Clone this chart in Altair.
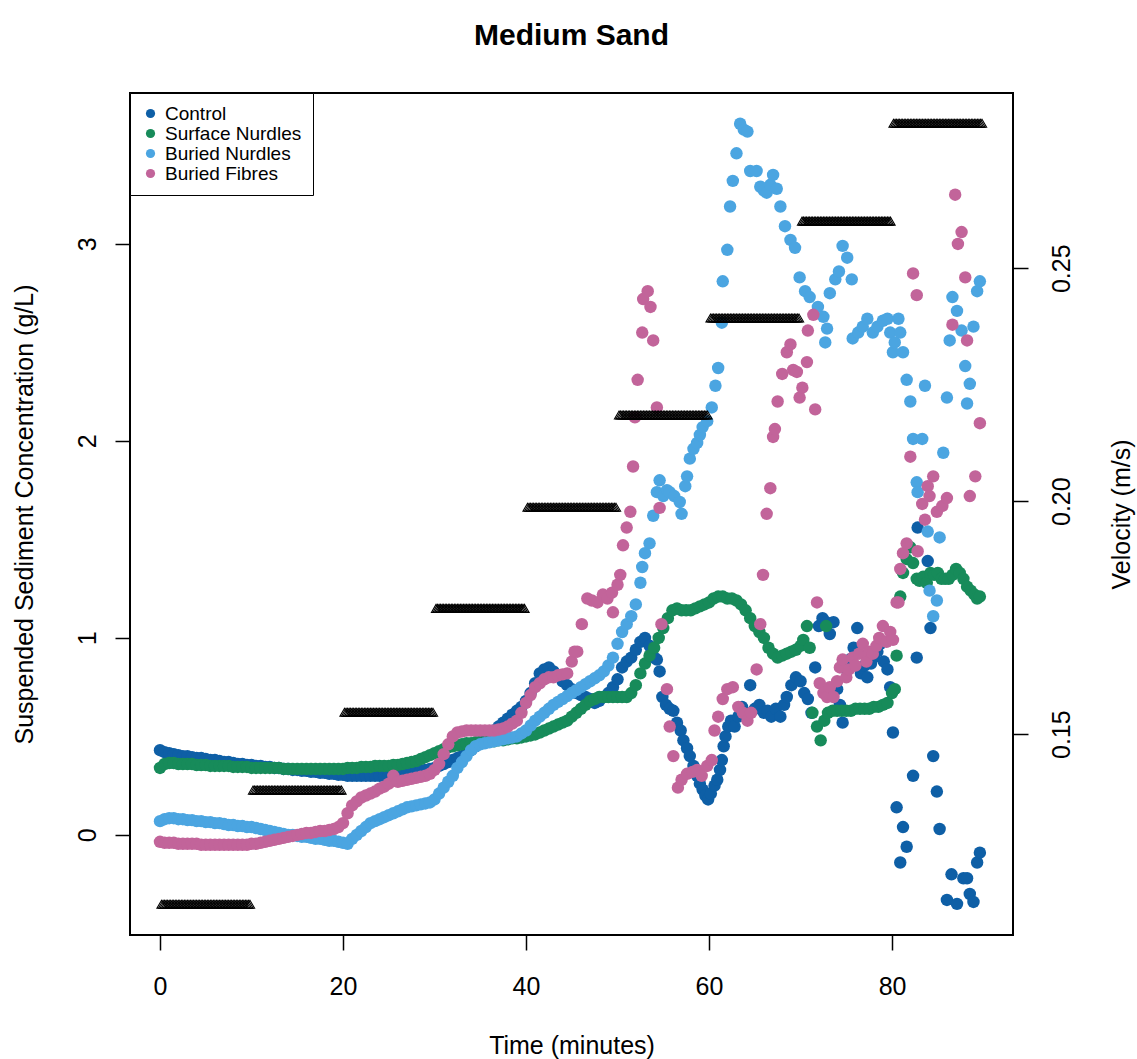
import altair as alt
import pandas as pd

SERIES = ["Control", "Surface Nurdles", "Buried Nurdles", "Buried Fibres"]
COLORS = ["#0e5fa6", "#178b5a", "#4ba5e1", "#c2649a"]

# (time in minutes, suspended sediment concentration g/L)
CONTROL = [
    (0, 0.43), (0.5, 0.42), (1, 0.415), (1.5, 0.41), (2, 0.405), (2.5, 0.40), (3, 0.40), (3.5, 0.395), (4, 0.39), (4.5, 0.39),
    (5, 0.385), (5.5, 0.38), (6, 0.38), (6.5, 0.375), (7, 0.37), (7.5, 0.37), (8, 0.365), (8.5, 0.36), (9, 0.36), (9.5, 0.355),
    (10, 0.355), (10.5, 0.35), (11, 0.35), (11.5, 0.345), (12, 0.345), (12.5, 0.34), (13, 0.34), (13.5, 0.335), (14, 0.335), (14.5, 0.33),
    (15, 0.33), (15.5, 0.325), (16, 0.325), (16.5, 0.32), (17, 0.32), (17.5, 0.315), (18, 0.315), (18.5, 0.31), (19, 0.31), (19.5, 0.305),
    (20, 0.305), (20.5, 0.30), (21, 0.30), (21.5, 0.30), (22, 0.30), (22.5, 0.30), (23, 0.30), (23.5, 0.30), (24, 0.30), (24.5, 0.30),
    (25, 0.30), (25.5, 0.305), (26, 0.305), (26.5, 0.31), (27, 0.31), (27.5, 0.315), (28, 0.32), (28.5, 0.325), (29, 0.33), (29.5, 0.335),
    (30, 0.34), (30.5, 0.35), (31, 0.36), (31.5, 0.37), (32, 0.38), (32.5, 0.39), (33, 0.40), (33.5, 0.42), (34, 0.43), (34.5, 0.45),
    (35, 0.47), (35.5, 0.49), (36, 0.51), (36.5, 0.53), (37, 0.55), (37.5, 0.57), (38, 0.59), (38.5, 0.61), (39, 0.63), (39.5, 0.65),
    (40, 0.68), (40.5, 0.72), (41, 0.77), (41.5, 0.82), (42, 0.84), (42.5, 0.85), (43, 0.83), (43.5, 0.81), (44, 0.78), (44.5, 0.76),
    (45, 0.74), (45.5, 0.72), (46, 0.71), (46.5, 0.70), (47, 0.69), (47.5, 0.67), (48, 0.68), (48.5, 0.70), (49, 0.72), (49.5, 0.75),
    (50, 0.79), (50.5, 0.85), (51, 0.88), (51.5, 0.90), (52, 0.94), (52.5, 0.98), (53, 1.00), (53.5, 0.96), (54, 0.90), (54.3, 0.89),
    (54.6, 0.83), (54.9, 0.70), (55.3, 0.66), (55.7, 0.64), (56.1, 0.63), (56.5, 0.57), (56.9, 0.53), (57.2, 0.48), (57.6, 0.44), (57.9, 0.40),
    (58.3, 0.35), (58.7, 0.30), (59.0, 0.26), (59.3, 0.23), (59.6, 0.20), (59.9, 0.18), (60.2, 0.21), (60.6, 0.25), (60.9, 0.28), (61.2, 0.33),
    (61.4, 0.38), (61.6, 0.45), (61.8, 0.50), (62.1, 0.55), (62.4, 0.58), (62.8, 0.55), (63.2, 0.60), (63.6, 0.65), (64.0, 0.62), (64.5, 0.76),
    (65.0, 0.64), (65.5, 0.66), (66.0, 0.62), (66.4, 0.63), (66.8, 0.60), (67.3, 0.64), (67.8, 0.60), (68.2, 0.66), (68.5, 0.70), (69.0, 0.76),
    (69.5, 0.80), (70.0, 0.78), (70.4, 0.72), (70.8, 0.69), (71.2, 0.62), (71.6, 0.85), (72.0, 1.06), (72.4, 1.10), (72.8, 1.08), (73.2, 1.02),
    (73.6, 1.08), (74.0, 0.74), (74.3, 0.66), (74.6, 0.57), (75.0, 0.84), (75.4, 0.89), (75.8, 0.95), (76.2, 1.05), (76.6, 0.82), (77.0, 0.86),
    (77.3, 0.80), (77.7, 0.87), (78.0, 0.90), (78.4, 0.93), (78.7, 0.97), (79.1, 0.88), (79.5, 0.84), (79.8, 0.75), (80.1, 0.52), (80.5, 0.14),
    (80.9, -0.14), (81.2, 0.04), (81.6, -0.06), (82.3, 0.30), (82.7, 0.90), (82.8, 1.56), (83.9, 1.39), (84.2, 1.05), (84.5, 0.40), (84.9, 0.22),
    (85.2, 0.03), (86.0, -0.33), (86.5, -0.20), (87.1, -0.35), (87.8, -0.22), (88.2, -0.22), (88.5, -0.30), (88.9, -0.34), (89.3, -0.14), (89.6, -0.09),
]

SURFACE_NURDLES = [
    (0, 0.34), (0.5, 0.36), (1, 0.365), (1.5, 0.365), (2, 0.36), (2.5, 0.36), (3, 0.36), (3.5, 0.36), (4, 0.355), (4.5, 0.355),
    (5, 0.355), (5.5, 0.35), (6, 0.35), (6.5, 0.35), (7, 0.35), (7.5, 0.35), (8, 0.345), (8.5, 0.345), (9, 0.345), (9.5, 0.345),
    (10, 0.34), (10.5, 0.34), (11, 0.34), (11.5, 0.34), (12, 0.34), (12.5, 0.34), (13, 0.34), (13.5, 0.335), (14, 0.335), (14.5, 0.335),
    (15, 0.335), (15.5, 0.335), (16, 0.335), (16.5, 0.335), (17, 0.335), (17.5, 0.335), (18, 0.335), (18.5, 0.335), (19, 0.335), (19.5, 0.335),
    (20, 0.335), (20.5, 0.34), (21, 0.34), (21.5, 0.34), (22, 0.345), (22.5, 0.345), (23, 0.345), (23.5, 0.35), (24, 0.35), (24.5, 0.35),
    (25, 0.35), (25.5, 0.355), (26, 0.355), (26.5, 0.36), (27, 0.365), (27.5, 0.37), (28, 0.375), (28.5, 0.385), (29, 0.395), (29.5, 0.405),
    (30, 0.415), (30.5, 0.425), (31, 0.435), (31.5, 0.445), (32, 0.45), (32.5, 0.455), (33, 0.46), (33.5, 0.465), (34, 0.465), (34.5, 0.47),
    (35, 0.47), (35.5, 0.47), (36, 0.475), (36.5, 0.475), (37, 0.48), (37.5, 0.48), (38, 0.485), (38.5, 0.49), (39, 0.49), (39.5, 0.495),
    (40, 0.50), (40.5, 0.505), (41, 0.51), (41.5, 0.52), (42, 0.53), (42.5, 0.54), (43, 0.55), (43.5, 0.56), (44, 0.57), (44.5, 0.58),
    (45, 0.60), (45.5, 0.62), (46, 0.64), (46.5, 0.66), (47, 0.68), (47.5, 0.69), (48, 0.70), (48.5, 0.70), (49, 0.70), (49.5, 0.70),
    (50, 0.70), (50.5, 0.70), (51, 0.70), (51.5, 0.72), (52, 0.76), (52.5, 0.82), (53, 0.87), (53.5, 0.91), (54, 0.95), (54.5, 1.00),
    (55, 1.05), (55.5, 1.10), (56, 1.14), (56.5, 1.15), (57, 1.14), (57.5, 1.14), (58, 1.14), (58.5, 1.15), (59, 1.16), (59.5, 1.17),
    (60, 1.18), (60.5, 1.20), (61, 1.21), (61.5, 1.21), (62, 1.20), (62.5, 1.20), (63, 1.19), (63.5, 1.17), (64, 1.14), (64.5, 1.10),
    (65, 1.06), (65.5, 1.03), (66, 1.00), (66.5, 0.95), (67, 0.92), (67.5, 0.90), (68, 0.91), (68.5, 0.92), (69, 0.93), (69.5, 0.94),
    (70, 0.96), (70.3, 0.99), (70.7, 1.06), (71.0, 0.95), (71.3, 0.62), (71.8, 0.55), (72.2, 0.48), (72.6, 0.58), (72.8, 1.06), (73.0, 0.62),
    (73.5, 0.63), (74, 0.63), (74.5, 0.63), (75, 0.63), (75.5, 0.63), (76, 0.64), (76.5, 0.64), (77, 0.64), (77.5, 0.64), (78, 0.65),
    (78.5, 0.65), (79, 0.66), (79.5, 0.67), (80, 0.72), (80.3, 0.74), (80.5, 0.91), (80.9, 1.21), (81.2, 1.33), (81.6, 1.40), (82.0, 1.46),
    (82.3, 1.38), (82.7, 1.30), (83.0, 1.29), (83.4, 1.31), (83.8, 1.28), (84.2, 1.33), (84.6, 1.32), (85.0, 1.33), (85.4, 1.30), (85.8, 1.30),
    (86.2, 1.30), (86.6, 1.32), (87.0, 1.35), (87.4, 1.33), (87.8, 1.30), (88.2, 1.26), (88.6, 1.24), (89.0, 1.22), (89.3, 1.20), (89.6, 1.21),
]

BURIED_NURDLES = [
    (0, 0.07), (0.5, 0.08), (1, 0.085), (1.5, 0.085), (2, 0.08), (2.5, 0.08), (3, 0.075), (3.5, 0.075), (4, 0.07), (4.5, 0.07),
    (5, 0.065), (5.5, 0.065), (6, 0.06), (6.5, 0.06), (7, 0.055), (7.5, 0.05), (8, 0.05), (8.5, 0.045), (9, 0.045), (9.5, 0.04),
    (10, 0.04), (10.5, 0.035), (11, 0.03), (11.5, 0.025), (12, 0.02), (12.5, 0.015), (13, 0.01), (13.5, 0.005), (14, 0.0), (14.5, 0.0),
    (15, -0.005), (15.5, -0.01), (16, -0.01), (16.5, -0.015), (17, -0.02), (17.5, -0.02), (18, -0.025), (18.5, -0.03), (19, -0.03), (19.5, -0.035),
    (20, -0.04), (20.5, -0.045), (21, -0.02), (21.5, 0.0), (22, 0.02), (22.5, 0.04), (23, 0.06), (23.5, 0.07), (24, 0.08), (24.5, 0.09),
    (25, 0.10), (25.5, 0.11), (26, 0.12), (26.5, 0.13), (27, 0.14), (27.5, 0.145), (28, 0.15), (28.5, 0.155), (29, 0.16), (29.5, 0.165),
    (30, 0.18), (30.5, 0.21), (31, 0.24), (31.5, 0.27), (32, 0.30), (32.5, 0.34), (33, 0.37), (33.5, 0.40), (34, 0.43), (34.5, 0.45),
    (35, 0.46), (35.5, 0.465), (36, 0.47), (36.5, 0.475), (37, 0.48), (37.5, 0.485), (38, 0.49), (38.5, 0.495), (39, 0.50), (39.5, 0.515),
    (40, 0.53), (40.5, 0.555), (41, 0.58), (41.5, 0.60), (42, 0.62), (42.5, 0.64), (43, 0.66), (43.5, 0.675), (44, 0.69), (44.5, 0.705),
    (45, 0.72), (45.5, 0.735), (46, 0.75), (46.5, 0.765), (47, 0.78), (47.5, 0.795), (48, 0.81), (48.5, 0.83), (49, 0.86), (49.5, 0.90),
    (50, 0.97), (50.5, 1.03), (51, 1.07), (51.5, 1.11), (52, 1.17), (52.5, 1.28), (52.7, 1.36), (53, 1.43), (53.5, 1.48), (53.9, 1.62),
    (54.3, 1.74), (54.6, 1.80), (55.0, 1.72), (55.4, 1.75), (55.7, 1.74), (56.2, 1.72), (56.8, 1.69), (57.0, 1.63), (57.4, 1.77), (57.6, 1.82),
    (57.9, 1.91), (58.3, 1.96), (58.7, 1.99), (59.0, 2.03), (59.3, 2.07), (59.8, 2.10), (60.3, 2.17), (60.7, 2.28), (61.0, 2.37), (61.4, 2.60),
    (61.5, 2.81), (62.0, 2.97), (62.3, 3.19), (62.6, 3.32), (63.0, 3.46), (63.4, 3.61), (63.8, 3.58), (64.2, 3.57), (64.5, 3.37), (65.2, 3.37),
    (65.6, 3.29), (66.0, 3.27), (66.3, 3.26), (66.7, 3.30), (67.0, 3.35), (67.4, 3.28), (67.8, 3.19), (68.3, 3.09), (68.9, 3.02), (69.4, 2.98),
    (69.9, 2.83), (70.5, 2.76), (71.0, 2.73), (71.9, 2.68), (72.5, 2.63), (72.9, 2.57), (72.7, 2.50), (73.2, 2.75), (73.8, 2.82), (74.2, 2.86),
    (74.6, 2.99), (75.1, 2.93), (75.6, 2.82), (75.7, 2.52), (76.3, 2.55), (76.8, 2.58), (77.3, 2.62), (77.9, 2.55), (78.4, 2.58), (79.0, 2.61),
    (79.5, 2.62), (79.8, 2.55), (80.1, 2.45), (80.3, 2.50), (80.7, 2.62), (80.9, 2.55), (81.2, 2.45), (81.6, 2.31), (82.0, 2.20), (82.3, 2.01),
    (82.7, 1.79), (82.8, 1.74), (83.3, 2.01), (83.6, 2.28), (83.9, 1.54), (84.1, 1.24), (84.5, 1.11), (84.9, 1.19), (85.2, 1.51), (85.6, 1.94),
    (86.0, 2.22), (86.3, 2.51), (86.6, 2.73), (87.1, 2.66), (87.6, 2.56), (88.0, 2.38), (88.2, 2.19), (88.5, 2.29), (88.9, 2.58), (89.3, 2.76),
    (89.6, 2.81),
]

BURIED_FIBRES = [
    (0, -0.035), (0.5, -0.04), (1, -0.04), (1.5, -0.04), (2, -0.045), (2.5, -0.045), (3, -0.045), (3.5, -0.045), (4, -0.045), (4.5, -0.05),
    (5, -0.05), (5.5, -0.05), (6, -0.05), (6.5, -0.05), (7, -0.05), (7.5, -0.05), (8, -0.05), (8.5, -0.05), (9, -0.05), (9.5, -0.05),
    (10, -0.045), (10.5, -0.045), (11, -0.04), (11.5, -0.035), (12, -0.03), (12.5, -0.025), (13, -0.02), (13.5, -0.015), (14, -0.01), (14.5, -0.005),
    (15, 0.0), (15.5, 0.005), (16, 0.01), (16.5, 0.01), (17, 0.015), (17.5, 0.02), (18, 0.02), (18.5, 0.025), (19, 0.03), (19.5, 0.04),
    (20, 0.06), (20.5, 0.11), (21, 0.15), (21.5, 0.17), (22, 0.19), (22.5, 0.20), (23, 0.21), (23.5, 0.22), (24, 0.235), (24.5, 0.245),
    (25, 0.26), (25.5, 0.30), (26, 0.27), (26.5, 0.275), (27, 0.28), (27.5, 0.285), (28, 0.29), (28.5, 0.295), (29, 0.30), (29.5, 0.31),
    (30, 0.33), (30.5, 0.36), (31, 0.41), (31.5, 0.46), (32, 0.50), (32.5, 0.52), (33, 0.525), (33.5, 0.53), (34, 0.53), (34.5, 0.53),
    (35, 0.53), (35.5, 0.53), (36, 0.53), (36.5, 0.53), (37, 0.535), (37.5, 0.54), (38, 0.55), (38.5, 0.565), (39, 0.58), (39.5, 0.62),
    (40, 0.67), (40.5, 0.71), (41, 0.75), (41.5, 0.77), (42, 0.79), (42.5, 0.80), (43, 0.80), (43.5, 0.81), (44, 0.815), (44.5, 0.82),
    (45, 0.88), (45.3, 0.93), (45.6, 0.93), (46.1, 1.07), (46.7, 1.20), (47.2, 1.19), (47.8, 1.18), (48.4, 1.22), (48.9, 1.20), (49.4, 1.23),
    (49.5, 1.13), (50.0, 1.27), (50.3, 1.32), (50.6, 1.47), (51.0, 1.56), (51.4, 1.64), (51.7, 1.87), (51.9, 2.12), (52.2, 2.31), (52.7, 2.55),
    (52.8, 2.72), (53.3, 2.76), (53.6, 2.68), (53.9, 2.51), (54.3, 2.17), (54.6, 1.66), (54.8, 1.07), (55.4, 0.74), (55.7, 0.55), (56.1, 0.40),
    (56.6, 0.24), (57.0, 0.28), (57.6, 0.31), (58.2, 0.32), (58.7, 0.33), (59.2, 0.30), (59.8, 0.35), (60.3, 0.38), (60.6, 0.53), (61.0, 0.60),
    (61.5, 0.69), (62.0, 0.74), (62.6, 0.75), (63.2, 0.65), (63.7, 0.62), (64.2, 0.58), (64.6, 0.62), (65.2, 0.84), (65.6, 1.07), (65.9, 1.32),
    (66.3, 1.63), (66.7, 1.76), (67.0, 2.02), (67.2, 2.06), (67.5, 2.20), (68.0, 2.34), (68.5, 2.45), (68.9, 2.49), (69.2, 2.36), (69.6, 2.35),
    (69.9, 2.22), (70.2, 2.27), (70.7, 2.40), (70.8, 2.56), (71.4, 2.64), (71.6, 2.16), (71.8, 1.18), (72.1, 0.77), (72.5, 0.72), (72.9, 0.70),
    (73.2, 0.75), (73.6, 0.70), (74.0, 0.78), (74.3, 0.85), (74.6, 0.89), (75.0, 0.80), (75.3, 0.84), (75.7, 0.90), (76.0, 0.86), (76.4, 0.92),
    (76.8, 0.97), (77.2, 0.88), (77.5, 0.93), (77.9, 0.92), (78.3, 0.96), (78.6, 1.00), (79.0, 1.06), (79.4, 0.98), (79.8, 1.03), (80.1, 0.99),
    (80.5, 1.18), (80.7, 1.18), (80.9, 1.35), (81.2, 1.43), (81.6, 1.48), (82.0, 1.92), (82.3, 2.85), (82.7, 2.74), (82.8, 1.44), (83.3, 1.68),
    (83.6, 1.60), (83.9, 1.77), (84.1, 1.72), (84.5, 1.82), (84.9, 1.64), (85.5, 1.67), (86.0, 1.71), (86.6, 2.59), (86.9, 3.25), (87.2, 3.00),
    (87.6, 3.06), (88.0, 2.83), (88.2, 2.51), (88.5, 1.72), (89.1, 1.82), (89.6, 2.09),
]

# Flow velocity steps (m/s): one level per 10-minute step, logged every 10 s
VEL_STEP_START = [0, 10, 20, 30, 40, 50, 60, 70, 80]
VEL_LEVEL = [0.1135, 0.1380, 0.1547, 0.1770, 0.1987, 0.2185, 0.2393, 0.2601, 0.2811]
VEL_LOGS_PER_STEP = 59

X_TICKS = [0, 20, 40, 60, 80]
Y_TICKS = [0, 1, 2, 3]
V_TICKS = [0.15, 0.20, 0.25]

FONT = "Liberation Sans"

rows = []
for name, pts in zip(SERIES, [CONTROL, SURFACE_NURDLES, BURIED_NURDLES, BURIED_FIBRES]):
    for t, c in pts:
        rows.append({"t": t, "c": c, "series": name})
conc = pd.DataFrame(rows)

vrows = []
for start, lvl in zip(VEL_STEP_START, VEL_LEVEL):
    for k in range(1, VEL_LOGS_PER_STEP + 1):
        vrows.append({"t": start + k / 6.0, "v": lvl})
vel = pd.DataFrame(vrows)

x_enc = alt.X(
    "t:Q",
    scale=alt.Scale(domain=[-3.28, 93.22], nice=False, zero=False),
    axis=alt.Axis(
        values=X_TICKS, format="d", title="Time (minutes)",
        titleX=441.5, titleY=118, titleAlign="center", titleBaseline="alphabetic",
        titleAngle=0, labelBaseline="alphabetic", labelPadding=44,
    ),
)

points = alt.Chart(conc).mark_circle(size=155, opacity=1).encode(
    x=x_enc,
    y=alt.Y(
        "c:Q",
        scale=alt.Scale(domain=[-0.508, 3.766], nice=False, zero=False),
        axis=alt.Axis(
            values=Y_TICKS, format="d", orient="left",
            title="Suspended Sediment Concentration (g/L)",
            labelAngle=270, labelAlign="center", labelBaseline="alphabetic", labelPadding=20,
            titleAngle=270, titleX=-98, titleY=421, titleAlign="center", titleBaseline="alphabetic",
        ),
    ),
    color=alt.Color(
        "series:N",
        scale=alt.Scale(domain=SERIES, range=COLORS),
        legend=alt.Legend(
            title=None, orient="top-left", offset=0,
            labelFont=FONT, labelFontSize=19, labelColor="black", labelOffset=5,
            symbolType="circle", symbolSize=85, symbolStrokeWidth=0, symbolOpacity=1,
            padding=11, rowPadding=0, strokeColor="black", fillColor="white",
            cornerRadius=0,
        ),
    ),
)

velocity = alt.Chart(vel).mark_point(
    shape="triangle-up", filled=False, color="black", size=85, strokeWidth=1.1, opacity=1
).encode(
    x=x_enc,
    y=alt.Y(
        "v:Q",
        scale=alt.Scale(domain=[0.1069, 0.2876], nice=False, zero=False),
        axis=alt.Axis(
            values=V_TICKS, format=".2f", orient="right", title="Velocity (m/s)",
            labelAngle=270, labelAlign="center", labelBaseline="alphabetic", labelPadding=41,
            titleAngle=270, titleX=116, titleY=421, titleAlign="center", titleBaseline="alphabetic",
        ),
    ),
)

chart = (
    alt.layer(points, velocity)
    .resolve_scale(y="independent")
    .properties(
        width=883,
        height=842,
        title=alt.TitleParams(
            "Medium Sand", font=FONT, fontSize=30, fontWeight="bold", color="black",
            anchor="middle", offset=18, baseline="alphabetic",
        ),
        autosize=alt.AutoSizeParams(type="none"),
        padding={"left": 130, "top": 93, "right": 124, "bottom": 124},
    )
    .configure(font=FONT)
    .configure_view(stroke="black", strokeWidth=2)
    .configure_axis(
        domain=False, grid=False, ticks=True, tickColor="black", tickWidth=1.5, tickSize=15,
        labelFont=FONT, labelFontSize=25, labelColor="black", labelFlush=False, labelOverlap=False,
        titleFont=FONT, titleFontSize=25, titleFontWeight="normal", titleColor="black",
    )
)

chart.save("out.html", embed_options={"renderer": "svg", "actions": False})
